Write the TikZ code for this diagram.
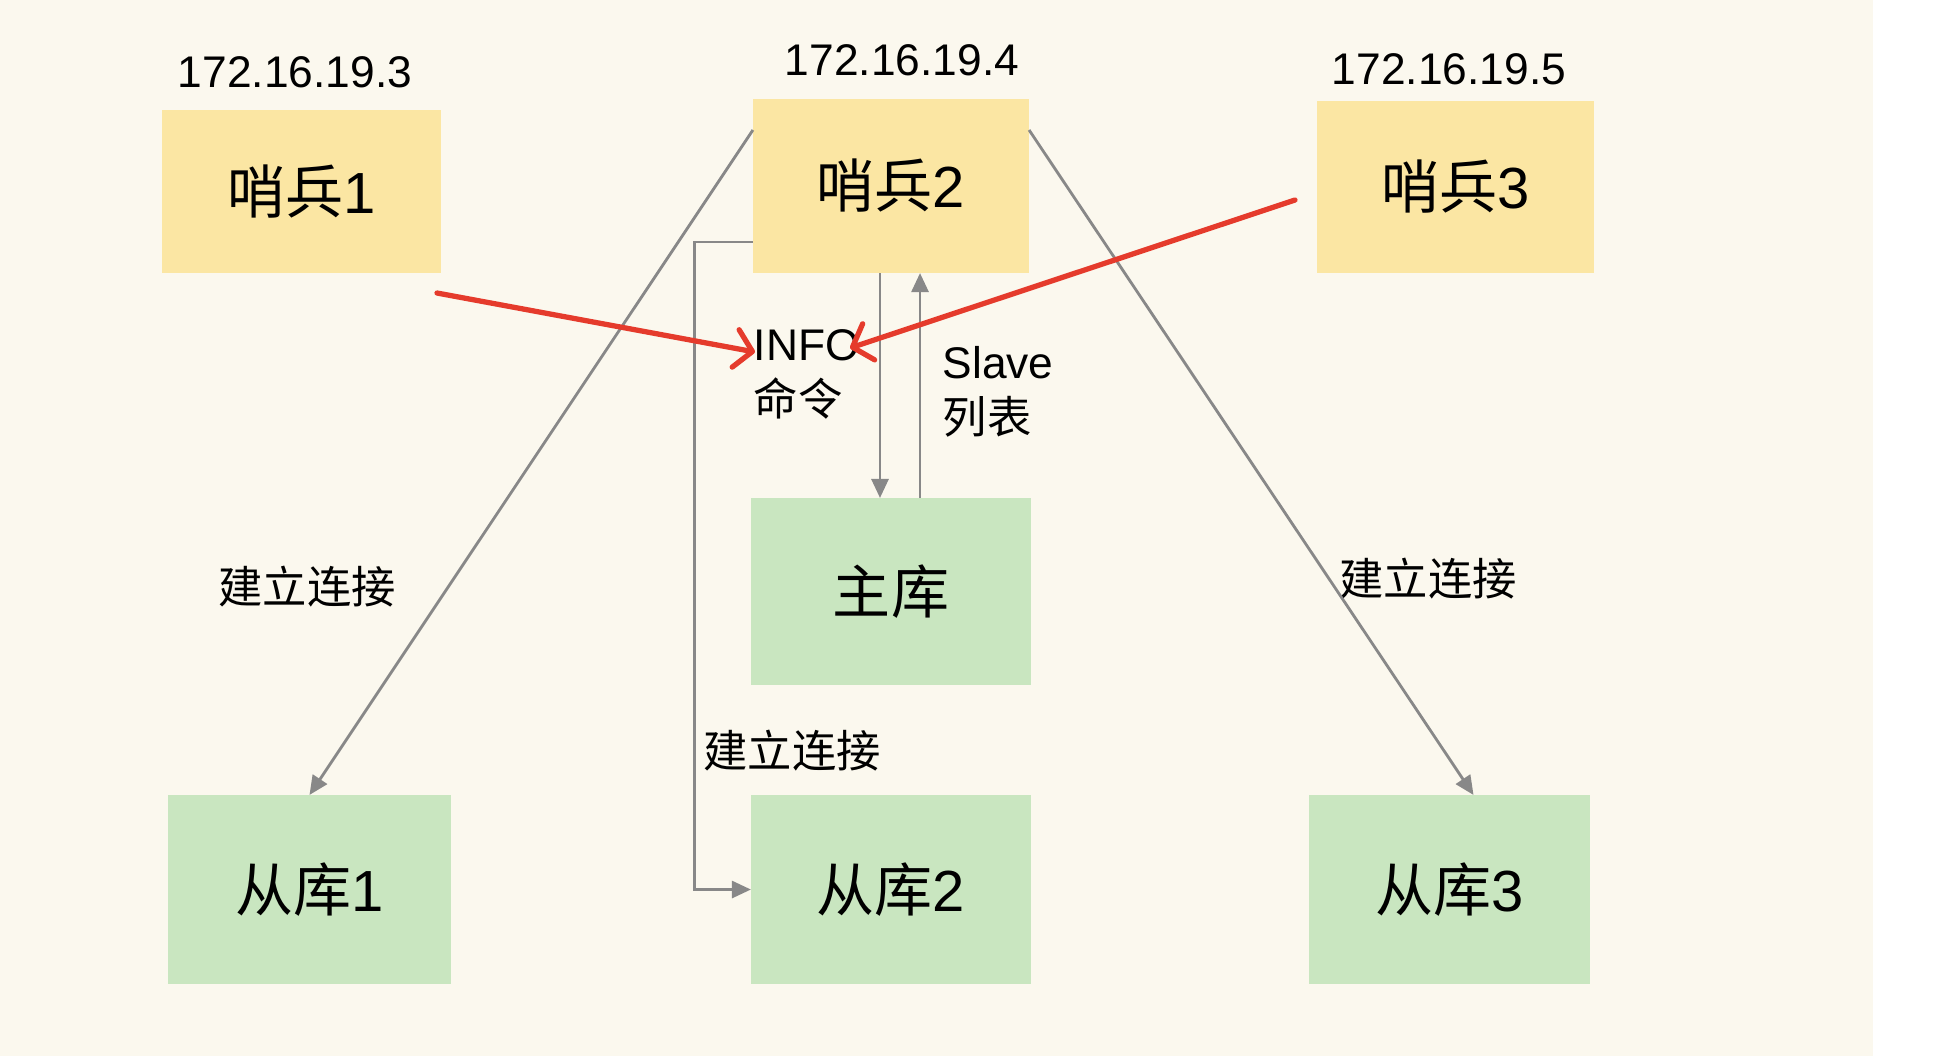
\documentclass[tikz,border=0pt]{standalone}
\usepackage{fontspec}
\setmainfont{Liberation Sans}
\newfontfamily\cjk{Noto Sans CJK SC}
\usetikzlibrary{arrows.meta,calc}
\definecolor{bgcream}{HTML}{FBF8EE}
\definecolor{boxyellow}{HTML}{FBE6A3}
\definecolor{boxgreen}{HTML}{C9E6C0}
\definecolor{linegray}{HTML}{888888}
\definecolor{redarrow}{HTML}{E53B2C}
\begin{document}
\begin{tikzpicture}[x=0.01cm,y=-0.01cm,
  ybox/.style={fill=boxyellow, inner sep=0pt, outer sep=0pt, font=\fontsize{16.5pt}{20pt}\selectfont},
  gbox/.style={fill=boxgreen, inner sep=0pt, outer sep=0pt, font=\fontsize{16.5pt}{20pt}\selectfont},
  iplabel/.style={inner sep=0pt, font=\fontsize{12.6pt}{15pt}\selectfont},
  txtlabel/.style={inner sep=0pt, font=\fontsize{12.6pt}{15.5pt}\selectfont},
  gline/.style={draw=linegray, line width=0.8pt, -{Triangle[length=0.19cm,width=0.17cm]}},
  gplain/.style={draw=linegray, line width=0.8pt},
  rline/.style={draw=redarrow, line width=1.5pt, line cap=round, -{Straight Barb[length=0.17cm,width=0.38cm,round]}}
]
\fill[bgcream] (0,0) rectangle (1873,1056);
\fill[white] (1873,0) rectangle (1942,1056);
\useasboundingbox (0,0) rectangle (1942,1056);

% boxes
\node[ybox, minimum width=2.79cm, minimum height=1.63cm] (s1) at (301.5,191.5) {{\cjk 哨兵}1};
\node[ybox, minimum width=2.76cm, minimum height=1.74cm] (s2) at (891,186) {{\cjk 哨兵}2};
\node[ybox, minimum width=2.77cm, minimum height=1.72cm] (s3) at (1455.5,187) {{\cjk 哨兵}3};
\node[gbox, minimum width=2.80cm, minimum height=1.87cm] (m) at (891,591.5) {\cjk 主库};
\node[gbox, minimum width=2.83cm, minimum height=1.89cm] (c1) at (309.5,889.5) {{\cjk 从库}1};
\node[gbox, minimum width=2.80cm, minimum height=1.89cm] (c2) at (891,889.5) {{\cjk 从库}2};
\node[gbox, minimum width=2.81cm, minimum height=1.89cm] (c3) at (1449.5,889.5) {{\cjk 从库}3};

% ip labels
\node[iplabel] (ip1) at (295,72) {172.16.19.3};
\node[iplabel] (ip2) at (902,60) {172.16.19.4};
\node[iplabel] (ip3) at (1449,69) {172.16.19.5};

% text labels
\node[txtlabel, anchor=north west, align=left] (info) at (753,329) {INFO\\{\cjk 命令}};
\node[txtlabel, anchor=north west, align=left] (slave) at (942,346) {Slave\\{\cjk 列表}};
\node[txtlabel] (l1) at (307,587) {\cjk 建立连接};
\node[txtlabel] (l2) at (792,751) {\cjk 建立连接};
\node[txtlabel] (l3) at (1428,579) {\cjk 建立连接};

% gray connectors
\draw[gline] ([yshift=-0.31cm]s2.north west) -- (c1.north);
\draw[gline] ([yshift=-0.31cm]s2.north east) -- ([xshift=0.24cm]c3.north);
\draw[gline] ([xshift=-0.11cm]s2.south) -- ([xshift=-0.11cm]m.north);
\draw[gline] ([xshift=0.29cm]m.north) -- ([xshift=0.29cm]s2.south);
\draw[gline] ([yshift=-0.56cm]s2.west) -- ++(-0.58cm,0) |- (c2.west);

% red arrows
\coordinate (r1s) at (437,293);
\coordinate (r1e) at (755,352);
\coordinate (r2s) at (1295,200);
\coordinate (r2e) at (850,348);
\draw[rline] (r1s) -- (r1e);
\draw[rline] (r2s) -- (r2e);
\end{tikzpicture}
\end{document}
